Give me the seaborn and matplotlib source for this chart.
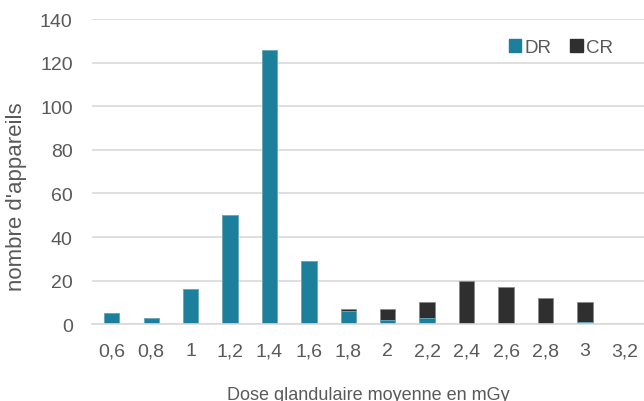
import matplotlib
matplotlib.use("Agg")
import matplotlib.pyplot as plt
import pandas as pd
import seaborn as sns
from matplotlib.patches import Patch

# Data
doses = ["0,6", "0,8", "1", "1,2", "1,4", "1,6", "1,8", "2", "2,2", "2,4", "2,6", "2,8", "3", "3,2"]
dr = [5, 3, 16, 50, 126, 29, 6, 2, 3, 0, 0, 0, 1, 0]
cr = [0, 0, 0, 0, 0, 0, 1, 5, 7, 20, 17, 12, 9, 0]

DR_COLOR = "#1c7f9c"
CR_COLOR = "#2f2f2f"
TEXT = "#595959"
GRID = "#d9d9d9"

df = pd.DataFrame({"dose": doses, "DR": dr, "CR": cr})
df["total"] = df["DR"] + df["CR"]

sns.set_style("white")
plt.rcParams["font.family"] = ["Liberation Sans", "DejaVu Sans"]

fig = plt.figure(figsize=(6.44, 4.02), dpi=100)
ax = fig.add_axes([0.143, 0.191, 0.857, 0.759])

# stacked bars: total in CR colour, DR drawn over it from zero
sns.barplot(data=df, x="dose", y="total", color=CR_COLOR, width=0.39,
            order=doses, ax=ax, saturation=1, edgecolor="#8a8a8a", linewidth=0.6)
sns.barplot(data=df, x="dose", y="DR", color=DR_COLOR, width=0.39,
            order=doses, ax=ax, saturation=1, edgecolor="#6fb0c2", linewidth=0.6)

ax.set_ylim(0, 140)
ax.set_yticks(range(0, 141, 20))
ax.yaxis.grid(True, color=GRID, linewidth=1.2)
ax.set_axisbelow(True)
for s in ["top", "right", "left"]:
    ax.spines[s].set_visible(False)
ax.spines["bottom"].set_color(GRID)
ax.spines["bottom"].set_linewidth(1.2)
ax.tick_params(axis="both", length=0, labelsize=14, colors=TEXT)
ax.tick_params(axis="y", pad=14)
ax.tick_params(axis="x", pad=13)

ax.set_xlabel("Dose glandulaire moyenne en mGy", fontsize=13, color=TEXT, labelpad=19)
ax.set_ylabel("nombre d'appareils", fontsize=16, color=TEXT)
ax.yaxis.set_label_coords(-0.118, 0.42)

handles = [Patch(color=DR_COLOR, label="DR"), Patch(color=CR_COLOR, label="CR")]
ax.legend(handles=handles, loc="upper right", bbox_to_anchor=(0.975, 0.99), ncol=2,
          frameon=False, fontsize=13.5, handlelength=0.65, handleheight=0.65,
          handletextpad=0.2, columnspacing=1.0, labelcolor=TEXT)

fig.savefig("out.png", dpi=100)
